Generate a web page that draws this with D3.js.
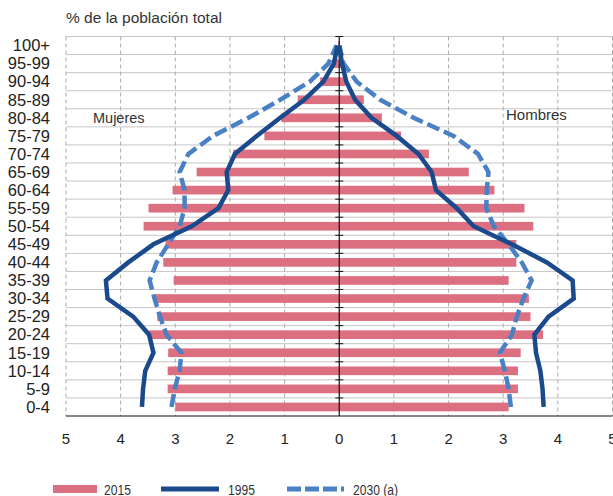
<!DOCTYPE html>
<html>
<head>
<meta charset="utf-8">
<script src="https://cdn.jsdelivr.net/npm/d3@7/dist/d3.min.js"></script>
<style>
  body { margin: 0; background: #fff; }
  svg { display: block; font-family: "Liberation Sans", Arial, sans-serif; }
</style>
</head>
<body>
<svg id="chart" width="613" height="496"></svg>
<script>
// age groups, bottom to top
const ages = ["0-4", "5-9", "10-14", "15-19", "20-24", "25-29", "30-34", "35-39", "40-44",
  "45-49", "50-54", "55-59", "60-64", "65-69", "70-74", "75-79", "80-84", "85-89",
  "90-94", "95-99", "100+"];

// % of total population, same order as ages
const women2015 = [3.0, 3.14, 3.14, 3.13, 3.48, 3.33, 3.39, 3.03, 3.22, 3.18, 3.58, 3.49,
  3.05, 2.61, 1.94, 1.37, 1.06, 0.76, 0.35, 0.12, 0.02];
const men2015 = [3.10, 3.27, 3.27, 3.32, 3.73, 3.50, 3.47, 3.10, 3.24, 3.24, 3.55, 3.39,
  2.84, 2.37, 1.64, 1.13, 0.78, 0.45, 0.11, 0.04, 0.01];

const women1995 = [3.61, 3.59, 3.55, 3.40, 3.48, 3.77, 4.24, 4.27, 3.86, 3.40, 2.70, 2.21,
  2.03, 2.06, 1.91, 1.51, 1.08, 0.64, 0.29, 0.10, 0.03];
const men1995 = [3.74, 3.72, 3.68, 3.60, 3.57, 3.83, 4.29, 4.27, 3.80, 3.16, 2.46, 2.15,
  1.77, 1.69, 1.45, 1.05, 0.59, 0.29, 0.13, 0.05, 0.0];

const women2030 = [3.07, 3.01, 2.92, 2.89, 3.16, 3.28, 3.38, 3.47, 3.34, 3.13, 2.92, 2.83,
  2.83, 2.92, 2.76, 2.31, 1.66, 1.08, 0.54, 0.20, 0.05];
const men2030 = [3.14, 3.10, 3.03, 2.94, 3.16, 3.25, 3.37, 3.52, 3.34, 3.10, 2.83, 2.69,
  2.70, 2.73, 2.54, 2.09, 1.36, 0.75, 0.32, 0.08, 0.0];

const xTicks = [-5, -4, -3, -2, -1, 0, 1, 2, 3, 4, 5];

const PINK = "#dc6f80";
const DARK_BLUE = "#1a4a8c";
const LIGHT_BLUE = "#4a80c4";
const TEXT_COLOR = "#333";

const svg = d3.select("#chart");

const x = d3.scaleLinear().domain([-5, 5]).range([66, 612.5]);
const y = d3.scaleBand()
  .domain(ages.slice().reverse())
  .range([36.5, 416])
  .paddingInner(0.52)
  .paddingOuter(0.26);
const step = y.step();
const bandTop = (a) => y(a) - y.paddingInner() * step / 2;

// horizontal grid (band boundaries)
const bounds = ages.map(bandTop);
svg.append("g")
  .selectAll("line")
  .data(bounds)
  .enter()
  .append("line")
  .attr("x1", x(-5))
  .attr("x2", x(5))
  .attr("y1", (d) => d)
  .attr("y2", (d) => d)
  .attr("stroke", "#c6c6c6")
  .attr("stroke-width", 1);

// vertical dashed grid
svg.append("g")
  .selectAll("line")
  .data(xTicks.filter((d) => d !== 0))
  .enter()
  .append("line")
  .attr("x1", (d) => x(d))
  .attr("x2", (d) => x(d))
  .attr("y1", 36.5)
  .attr("y2", 416)
  .attr("stroke", "#aaa")
  .attr("stroke-dasharray", "4,3");

// 2015 bars
const bars = svg.append("g");
bars.selectAll(".w")
  .data(ages)
  .enter()
  .append("rect")
  .attr("x", (d, i) => x(-women2015[i]))
  .attr("y", (d) => y(d))
  .attr("width", (d, i) => x(0) - x(-women2015[i]))
  .attr("height", y.bandwidth())
  .attr("fill", PINK);
bars.selectAll(".m")
  .data(ages)
  .enter()
  .append("rect")
  .attr("x", x(0))
  .attr("y", (d) => y(d))
  .attr("width", (d, i) => x(men2015[i]) - x(0))
  .attr("height", y.bandwidth())
  .attr("fill", PINK);

// axes
const cx = x(0);
svg.append("line")
  .attr("x1", cx).attr("x2", cx)
  .attr("y1", 36.5).attr("y2", 416)
  .attr("stroke", "#111").attr("stroke-width", 1.2);
svg.append("g")
  .selectAll("line")
  .data(bounds)
  .enter()
  .append("line")
  .attr("x1", cx - 4).attr("x2", cx + 4)
  .attr("y1", (d) => d).attr("y2", (d) => d)
  .attr("stroke", "#111");

svg.append("line")
  .attr("x1", x(-5)).attr("x2", x(5))
  .attr("y1", 416).attr("y2", 416)
  .attr("stroke", "#111").attr("stroke-width", 1.2);

svg.append("g")
  .selectAll("text")
  .data(xTicks)
  .enter()
  .append("text")
  .attr("x", (d) => x(d))
  .attr("y", 444)
  .attr("text-anchor", "middle")
  .attr("font-size", "15px")
  .attr("fill", "#222")
  .text((d) => Math.abs(d));

// age labels
svg.append("g")
  .selectAll("text")
  .data(ages)
  .enter()
  .append("text")
  .attr("x", 50)
  .attr("y", (d) => y(d) + y.bandwidth() / 2 + 5.8)
  .attr("text-anchor", "end")
  .attr("font-size", "16.5px")
  .attr("fill", "#222")
  .text((d) => d);

// lines
const lineW = d3.line()
  .x((d) => x(-d.v))
  .y((d) => y(d.a) + y.bandwidth() / 2);
const lineM = d3.line()
  .x((d) => x(d.v))
  .y((d) => y(d.a) + y.bandwidth() / 2);

function series(vals) {
  return ages.map((a, i) => ({ a: a, v: vals[i] }));
}

function drawLine(gen, vals, color, dash) {
  svg.append("path")
    .datum(series(vals))
    .attr("d", gen)
    .attr("fill", "none")
    .attr("stroke", color)
    .attr("stroke-width", 4.5)
    .attr("stroke-linejoin", "miter")
    .attr("stroke-dasharray", dash);
}

drawLine(lineW, women2030, LIGHT_BLUE, "13,5");
drawLine(lineM, men2030, LIGHT_BLUE, "13,5");
drawLine(lineW, women1995, DARK_BLUE, null);
drawLine(lineM, men1995, DARK_BLUE, null);

// titles
svg.append("text")
  .attr("x", 66).attr("y", 23)
  .attr("font-size", "15.5px")
  .attr("fill", TEXT_COLOR)
  .text("% de la población total");
svg.append("text")
  .attr("x", 93).attr("y", 123)
  .attr("font-size", "14.5px")
  .attr("fill", TEXT_COLOR)
  .text("Mujeres");
svg.append("text")
  .attr("x", 506).attr("y", 120)
  .attr("font-size", "15px")
  .attr("fill", TEXT_COLOR)
  .text("Hombres");

// legend
const legend = svg.append("g").attr("transform", "translate(0,489)");
const legendItems = [
  { label: "2015", x: 53, w: 44, tx: 104, type: "bar", color: PINK },
  { label: "1995", x: 161, w: 58, tx: 228, type: "line", color: DARK_BLUE },
  { label: "2030 (a)", x: 287, w: 57, tx: 353, type: "dash", color: LIGHT_BLUE }
];
legendItems.forEach((it) => {
  if (it.type === "bar") {
    legend.append("rect")
      .attr("x", it.x).attr("y", -4)
      .attr("width", it.w).attr("height", 8)
      .attr("fill", it.color);
  } else {
    legend.append("line")
      .attr("x1", it.x).attr("x2", it.x + it.w)
      .attr("y1", 0).attr("y2", 0)
      .attr("stroke", it.color)
      .attr("stroke-width", 5)
      .attr("stroke-dasharray", it.type === "dash" ? "14,4" : null);
  }
  // narrow lettering, as in the original
  legend.append("text")
    .attr("transform", `translate(${it.tx},5.5) scale(0.78,1)`)
    .attr("font-size", "15.5px")
    .attr("fill", TEXT_COLOR)
    .text(it.label);
});
</script>
</body>
</html>
